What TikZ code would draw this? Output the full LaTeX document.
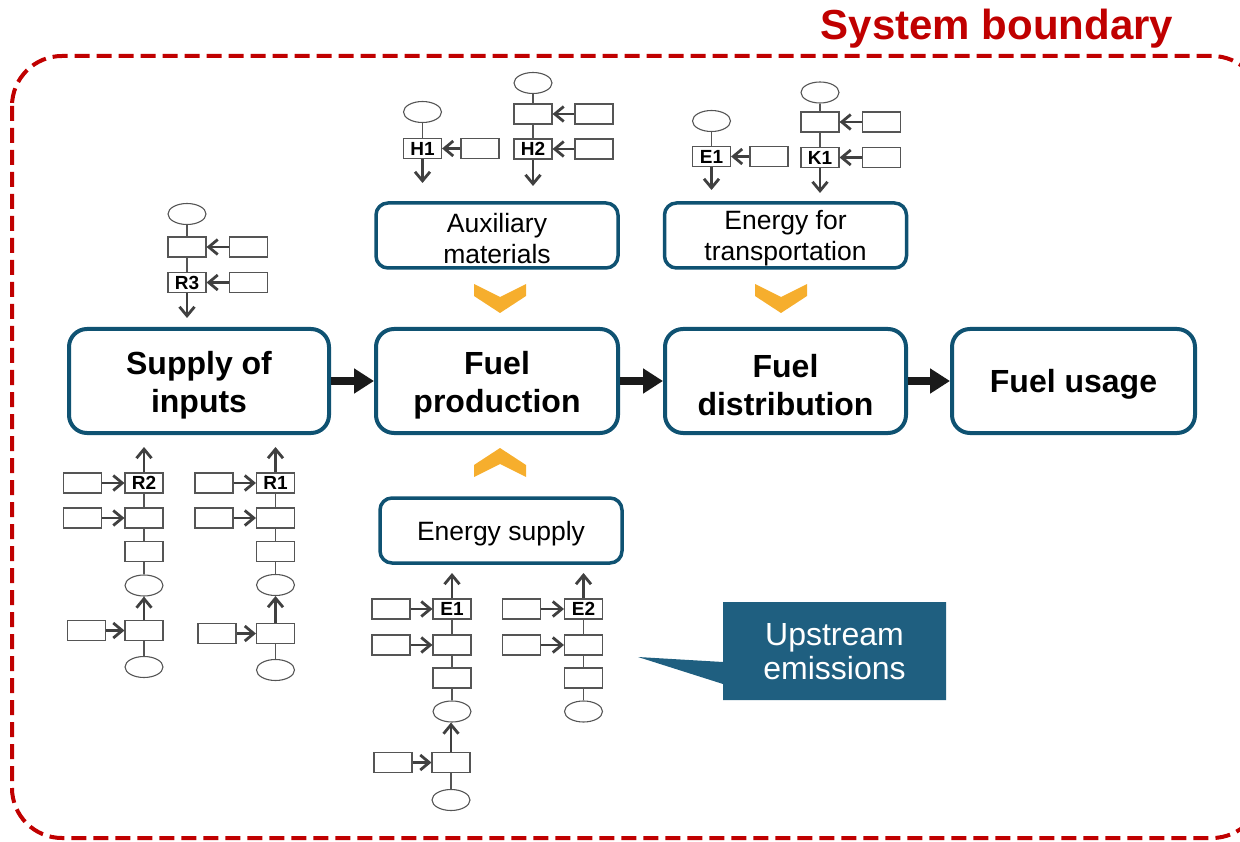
\documentclass[tikz,border=0pt]{standalone}
\usepackage{fontspec}
\setmainfont{Liberation Sans}
\usetikzlibrary{arrows.meta,shapes.geometric}
\definecolor{boxblue}{HTML}{0F5272}
\definecolor{callblue}{HTML}{1F5F80}
\definecolor{redb}{HTML}{C00000}
\definecolor{chev}{HTML}{F6AE2D}
\definecolor{sgray}{HTML}{404040}
\definecolor{bgray}{HTML}{555555}
\definecolor{arrblack}{HTML}{1A1A1A}
\tikzset{
  mainbox/.style={draw=boxblue, line width=4, rounded corners=18, fill=white, minimum height=104, inner sep=0},
  mtext/.style={align=center, inner sep=0, yshift=-4pt, font=\fontsize{32}{38}\selectfont\bfseries},
  subbox/.style={draw=boxblue, line width=3.5, rounded corners=12, fill=white, minimum width=242, minimum height=65, inner sep=0},
  stext/.style={align=center, inner sep=0, yshift=-3pt, font=\fontsize{26.5}{31}\selectfont},
  sbox/.style={draw=bgray, line width=1.1, minimum width=38, minimum height=20, inner sep=0, font=\fontsize{19}{19}\selectfont\bfseries},
  sell/.style={draw=bgray, line width=1.1, ellipse, minimum width=38, minimum height=21, inner sep=0},
  sline/.style={draw=bgray, line width=1.1},
  sarr/.style={draw=sgray, line width=2.8, -{Straight Barb[length=9pt,width=15pt]}},
  bigarr/.style={draw=arrblack, line width=8, -{Triangle[length=20pt,width=24pt]}},
  chevron/.style={fill=chev, draw=none},
}
\begin{document}
\begin{tikzpicture}[x=1pt,y=-1pt]
\useasboundingbox (0,0) rectangle (1240,842);
% boundary
\begin{scope}
\clip (0,0) rectangle (1240,842);
\draw[redb, line width=4, dash pattern=on 15pt off 7pt, rounded corners=50] (12,56) rectangle (1262,838);
\end{scope}
\node[anchor=base, text=redb, font=\fontsize{42}{42}\selectfont\bfseries] (title) at (997,40) {System boundary};

% main boxes
\node[mainbox, minimum width=260, label={[mtext]center:Supply of\\inputs}] (sup) at (199,381) {};
\node[mainbox, minimum width=242, label={[mtext]center:Fuel\\production}] (fp) at (497,381) {};
\node[mainbox, minimum width=241, label={[mtext]center:Fuel\\distribution}] (fd) at (785.5,381) {};
\node[mainbox, minimum width=243, label={[mtext,yshift=1pt]center:Fuel usage}] (fu) at (1073.5,381) {};
\draw[bigarr] (sup) -- (fp);
\draw[bigarr] (fp) -- (fd);
\draw[bigarr] (fd) -- (fu);

% sub boxes
\node[subbox, label={[stext]center:Auxiliary\\materials}] (aux) at (497,235.5) {};
\node[subbox, label={[stext]center:Energy for\\transportation}] (eft) at (785.5,235.5) {};
\node[subbox, label={[stext]center:Energy supply}] (es) at (501,530.5) {};

% chevrons
\fill[chevron] (474,284) -- (500,297) -- (526,284) -- (526,296) -- (500,313) -- (474,296) -- cycle;
\fill[chevron] (755,284) -- (781,297) -- (807,284) -- (807,296) -- (781,313) -- (755,296) -- cycle;
\fill[chevron] (474,477) -- (500,464) -- (526,477) -- (526,465) -- (500,448) -- (474,465) -- cycle;

% callout
\fill[callblue] (723,602) -- (946,602) -- (946,700) -- (723,700) -- (723,684) -- (638,657) -- (723,662) -- cycle;
\node[text=white, align=center, font=\fontsize{32}{34}\selectfont] (up) at (834.5,652) {Upstream\\emissions};

% R3 chain
\node[sell] (r3e) at (187,214) {};
\node[sbox] (r3a) at (187,247) {};
\node[sbox] (r3as) at (248.5,247) {};
\node[sbox] (r3) at (187,282.5) {R3};
\node[sbox] (r3s) at (248.5,282.5) {};
\coordinate (r3o) at (187,318);
\draw[sline] (r3e) -- (r3a);
\draw[sline] (r3a) -- (r3);
\draw[sarr] (r3as) -- (r3a);
\draw[sarr] (r3s) -- (r3);
\draw[sarr] (r3) -- (r3o);

% H1 chain
\node[sell] (h1e) at (422.5,112) {};
\node[sbox] (h1) at (422.5,148.5) {H1};
\node[sbox] (h1s) at (480,148.5) {};
\coordinate (h1o) at (422.5,183);
\draw[sline] (h1e) -- (h1);
\draw[sarr] (h1s) -- (h1);
\draw[sarr] (h1) -- (h1o);

% H2 chain
\node[sell] (h2e) at (533,83) {};
\node[sbox] (h2a) at (533,114) {};
\node[sbox] (h2as) at (594,114) {};
\node[sbox] (h2) at (533,149) {H2};
\node[sbox] (h2s) at (594,149) {};
\coordinate (h2o) at (533,186);
\draw[sline] (h2e) -- (h2a);
\draw[sline] (h2a) -- (h2);
\draw[sarr] (h2as) -- (h2a);
\draw[sarr] (h2s) -- (h2);
\draw[sarr] (h2) -- (h2o);

% E1 top chain
\node[sell] (te1e) at (711.5,121) {};
\node[sbox] (te1) at (711.5,156.5) {E1};
\node[sbox] (te1s) at (769,156.5) {};
\coordinate (te1o) at (711.5,190);
\draw[sline] (te1e) -- (te1);
\draw[sarr] (te1s) -- (te1);
\draw[sarr] (te1) -- (te1o);

% K1 chain
\node[sell] (k1e) at (820,92.5) {};
\node[sbox] (k1a) at (820,122) {};
\node[sbox] (k1as) at (881.5,122) {};
\node[sbox] (k1) at (820,157.5) {K1};
\node[sbox] (k1s) at (881.5,157.5) {};
\coordinate (k1o) at (820,193);
\draw[sline] (k1e) -- (k1a);
\draw[sline] (k1a) -- (k1);
\draw[sarr] (k1as) -- (k1a);
\draw[sarr] (k1s) -- (k1);
\draw[sarr] (k1) -- (k1o);

% R2 chain
\coordinate (r2o) at (144,447);
\node[sbox] (r2) at (144,483) {R2};
\node[sbox] (r2s) at (82.5,483) {};
\node[sbox] (r2b) at (144,518) {};
\node[sbox] (r2bs) at (82.5,518) {};
\node[sbox] (r2c) at (144,551.5) {};
\node[sell] (r2e) at (144,585.5) {};
\node[sbox] (r2d) at (144,630.5) {};
\node[sbox] (r2ds) at (86.5,630.5) {};
\node[sell] (r2f) at (144,667) {};
\draw[sarr] (r2) -- (r2o);
\draw[sarr] (r2s) -- (r2);
\draw[sarr] (r2bs) -- (r2b);
\draw[sline] (r2) -- (r2b);
\draw[sline] (r2b) -- (r2c);
\draw[sline] (r2c) -- (r2e);
\draw[sarr] (r2d) -- (r2e);
\draw[sarr] (r2ds) -- (r2d);
\draw[sline] (r2f) -- (r2d);

% R1 chain
\coordinate (r1o) at (275.5,447);
\node[sbox] (r1) at (275.5,483) {R1};
\node[sbox] (r1s) at (214,483) {};
\node[sbox] (r1b) at (275.5,518) {};
\node[sbox] (r1bs) at (214,518) {};
\node[sbox] (r1c) at (275.5,551.5) {};
\node[sell] (r1e) at (275.5,585) {};
\node[sbox] (r1d) at (275.5,633.5) {};
\node[sbox] (r1ds) at (217,633.5) {};
\node[sell] (r1f) at (275.5,670) {};
\draw[sarr] (r1) -- (r1o);
\draw[sarr] (r1s) -- (r1);
\draw[sarr] (r1bs) -- (r1b);
\draw[sline] (r1) -- (r1b);
\draw[sline] (r1b) -- (r1c);
\draw[sline] (r1c) -- (r1e);
\draw[sarr] (r1d) -- (r1e);
\draw[sarr] (r1ds) -- (r1d);
\draw[sline] (r1f) -- (r1d);

% E1 lower chain
\coordinate (e1o) at (452,573);
\node[sbox] (e1) at (452,609) {E1};
\node[sbox] (e1s) at (391,609) {};
\node[sbox] (e1b) at (452,645) {};
\node[sbox] (e1bs) at (391,645) {};
\node[sbox] (e1c) at (452,678) {};
\node[sell] (e1e) at (452,711.5) {};
\node[sbox] (e1d) at (451,762.5) {};
\node[sbox] (e1ds) at (393,762.5) {};
\node[sell] (e1f) at (451,800) {};
\draw[sarr] (e1) -- (e1o);
\draw[sarr] (e1s) -- (e1);
\draw[sarr] (e1bs) -- (e1b);
\draw[sline] (e1) -- (e1b);
\draw[sline] (e1b) -- (e1c);
\draw[sline] (e1c) -- (e1e);
\draw[sarr] (e1d) -- (e1d |- e1e.south);
\draw[sarr] (e1ds) -- (e1d);
\draw[sline] (e1f) -- (e1d);

% E2 chain
\coordinate (e2o) at (583.5,573);
\node[sbox] (e2) at (583.5,609) {E2};
\node[sbox] (e2s) at (521.5,609) {};
\node[sbox] (e2b) at (583.5,645) {};
\node[sbox] (e2bs) at (521.5,645) {};
\node[sbox] (e2c) at (583.5,678) {};
\node[sell] (e2e) at (583.5,711.5) {};
\draw[sarr] (e2) -- (e2o);
\draw[sarr] (e2s) -- (e2);
\draw[sarr] (e2bs) -- (e2b);
\draw[sline] (e2) -- (e2b);
\draw[sline] (e2b) -- (e2c);
\draw[sline] (e2c) -- (e2e);
\end{tikzpicture}
\end{document}
